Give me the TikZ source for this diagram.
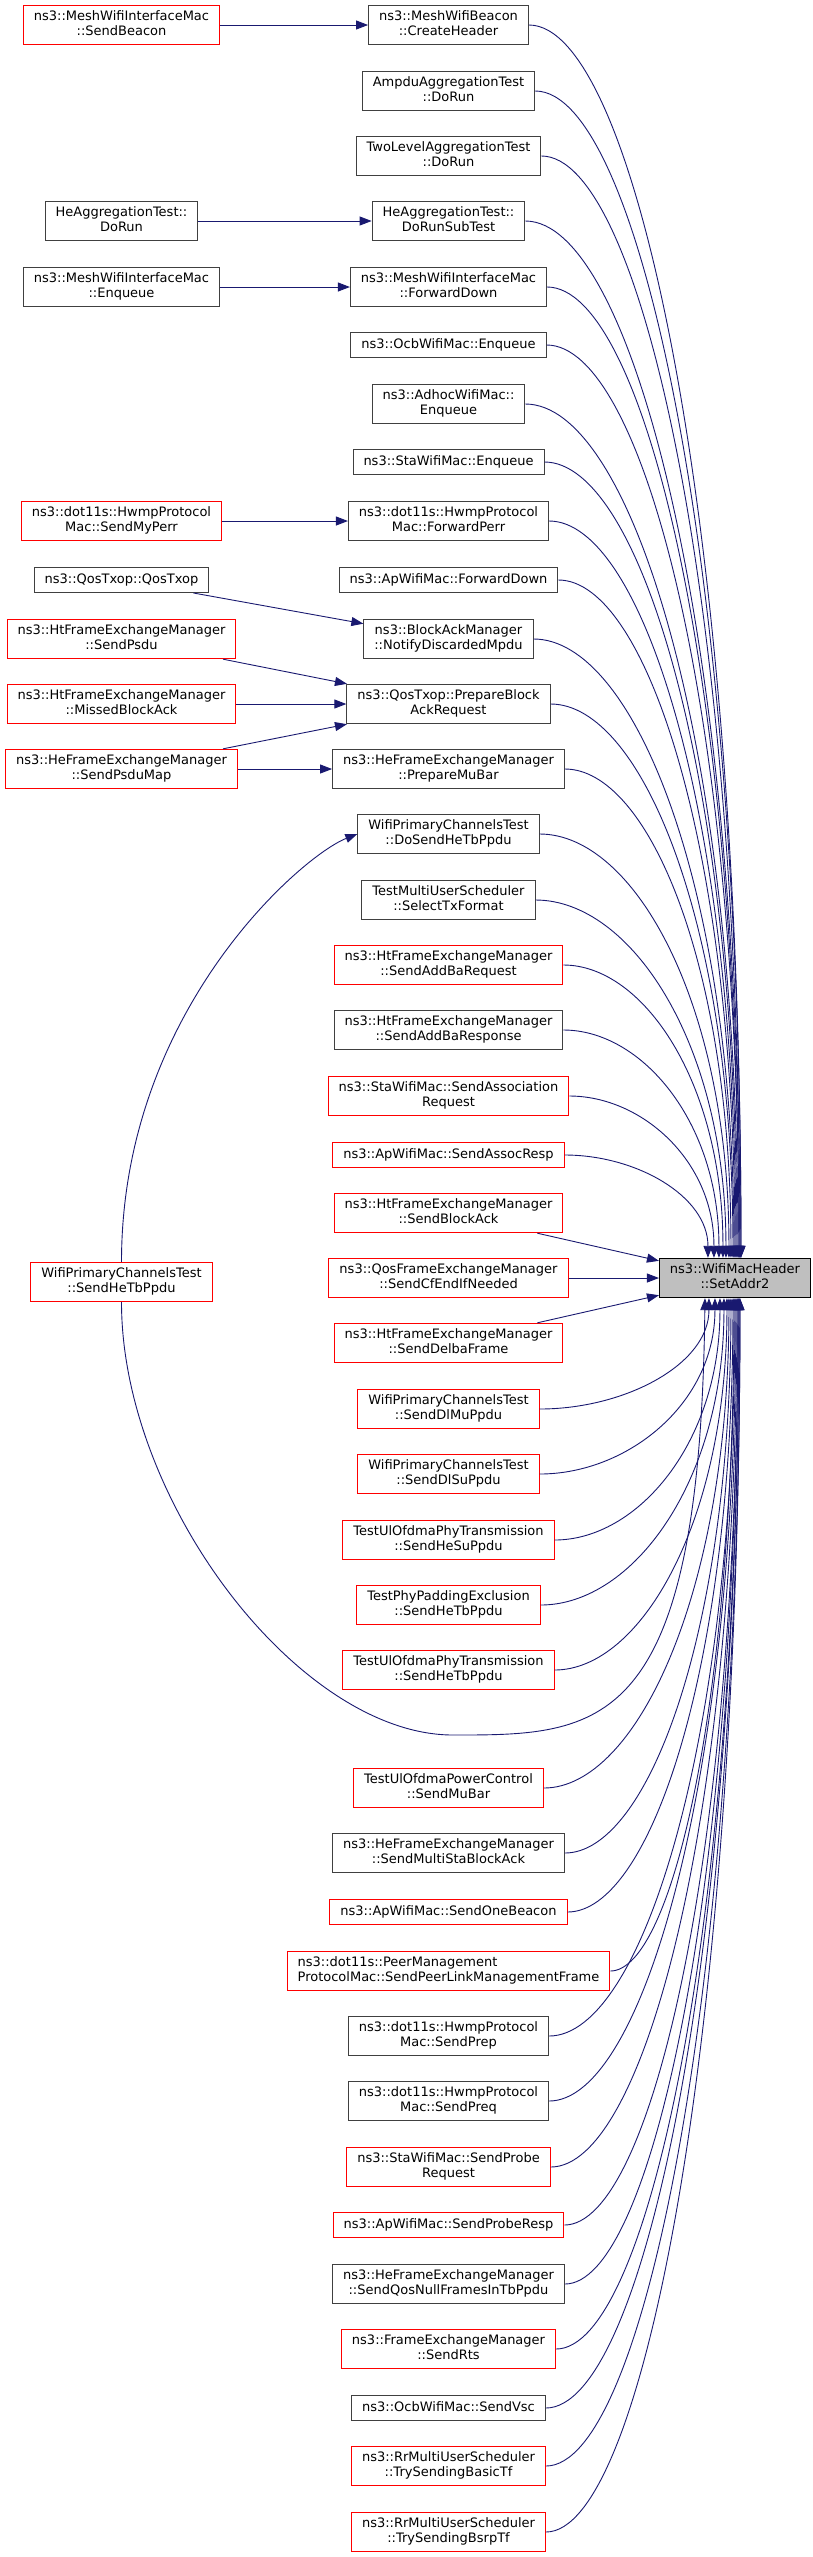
\documentclass[tikz,border=0pt]{standalone}
\usepackage{fontspec}
\setmainfont{DejaVu Sans}
\usetikzlibrary{arrows.meta,calc}
\definecolor{edgeblue}{HTML}{191970}
\definecolor{boxline}{HTML}{404040}
\definecolor{hitfill}{HTML}{BFBFBF}

\begin{document}
\begin{tikzpicture}[x=1pt,y=1pt]
        \tikzset{fnbox/.style={draw=boxline,line width=1pt,fill=white,align=center,
                font=\fontsize{13}{15}\selectfont,inner xsep=10.5pt,inner ysep=5pt,
                execute at begin node=\strut,execute at end node=\strut},
            fnred/.style={fnbox,draw=red},
            fnhit/.style={fnbox,draw=black,fill=hitfill},
            calledge/.style={color=edgeblue,line width=0.9pt,-{Triangle[length=12pt,width=9pt]}}}
        \useasboundingbox (0,0) rectangle (813,-2557);

        % callers of the callers
        \node[fnred] (sendbeacon) at (121.5,-25) {ns3::MeshWifiInterfaceMac\\::SendBeacon};
        \node[fnbox] (heaggrun) at (121.5,-221) {HeAggregationTest::\\DoRun};
        \node[fnbox] (meshenq) at (121.5,-287) {ns3::MeshWifiInterfaceMac\\::Enqueue};
        \node[fnred] (sendmyperr) at (121.5,-521) {ns3::dot11s::HwmpProtocol\\Mac::SendMyPerr};
        \node[fnbox] (qostxop) at (121.5,-580) {ns3::QosTxop::QosTxop};
        \node[fnred] (sendpsdu) at (121.5,-639) {ns3::HtFrameExchangeManager\\::SendPsdu};
        \node[fnred] (missedba) at (121.5,-704) {ns3::HtFrameExchangeManager\\::MissedBlockAck};
        \node[fnred] (psdumap) at (121.5,-769) {ns3::HeFrameExchangeManager\\::SendPsduMap};
        \node[fnred] (sendhetb) at (121.5,-1282) {WifiPrimaryChannelsTest\\::SendHeTbPpdu};

        % direct callers
        \node[fnbox] (ch) at (448.5,-25) {ns3::MeshWifiBeacon\\::CreateHeader};
        \node[fnbox] (ampdu) at (448.5,-91) {AmpduAggregationTest\\::DoRun};
        \node[fnbox] (twolevel) at (448.5,-156) {TwoLevelAggregationTest\\::DoRun};
        \node[fnbox] (subtest) at (448.5,-221) {HeAggregationTest::\\DoRunSubTest};
        \node[fnbox] (fwddown) at (448.5,-287) {ns3::MeshWifiInterfaceMac\\::ForwardDown};
        \node[fnbox] (ocbenq) at (448.5,-345) {ns3::OcbWifiMac::Enqueue};
        \node[fnbox] (adhocenq) at (448.5,-404) {ns3::AdhocWifiMac::\\Enqueue};
        \node[fnbox] (staenq) at (448.5,-462) {ns3::StaWifiMac::Enqueue};
        \node[fnbox] (fwdperr) at (448.5,-521) {ns3::dot11s::HwmpProtocol\\Mac::ForwardPerr};
        \node[fnbox] (apfwd) at (448.5,-580) {ns3::ApWifiMac::ForwardDown};
        \node[fnbox] (notify) at (448.5,-639) {ns3::BlockAckManager\\::NotifyDiscardedMpdu};
        \node[fnbox] (prepbar) at (448.5,-704) {ns3::QosTxop::PrepareBlock\\AckRequest};
        \node[fnbox] (mubar) at (448.5,-769) {ns3::HeFrameExchangeManager\\::PrepareMuBar};
        \node[fnbox] (dosend) at (448.5,-834) {WifiPrimaryChannelsTest\\::DoSendHeTbPpdu};
        \node[fnbox] (selecttx) at (448.5,-900) {TestMultiUserScheduler\\::SelectTxFormat};
        \node[fnred] (addbareq) at (448.5,-965) {ns3::HtFrameExchangeManager\\::SendAddBaRequest};
        \node[fnbox] (addbaresp) at (448.5,-1030) {ns3::HtFrameExchangeManager\\::SendAddBaResponse};
        \node[fnred] (assocreq) at (448.5,-1096) {ns3::StaWifiMac::SendAssociation\\Request};
        \node[fnred] (assocresp) at (448.5,-1155) {ns3::ApWifiMac::SendAssocResp};
        \node[fnred] (blockack) at (448.5,-1213) {ns3::HtFrameExchangeManager\\::SendBlockAck};
        \node[fnred] (cfend) at (448.5,-1278) {ns3::QosFrameExchangeManager\\::SendCfEndIfNeeded};
        \node[fnred] (delba) at (448.5,-1343) {ns3::HtFrameExchangeManager\\::SendDelbaFrame};
        \node[fnred] (dlmu) at (448.5,-1409) {WifiPrimaryChannelsTest\\::SendDlMuPpdu};
        \node[fnred] (dlsu) at (448.5,-1474) {WifiPrimaryChannelsTest\\::SendDlSuPpdu};
        \node[fnred] (hesu) at (448.5,-1540) {TestUlOfdmaPhyTransmission\\::SendHeSuPpdu};
        \node[fnred] (padding) at (448.5,-1605) {TestPhyPaddingExclusion\\::SendHeTbPpdu};
        \node[fnred] (ulhetb) at (448.5,-1670) {TestUlOfdmaPhyTransmission\\::SendHeTbPpdu};
        \node[fnred] (pcmubar) at (448.5,-1788) {TestUlOfdmaPowerControl\\::SendMuBar};
        \node[fnbox] (multista) at (448.5,-1853) {ns3::HeFrameExchangeManager\\::SendMultiStaBlockAck};
        \node[fnred] (onebeacon) at (448.5,-1912) {ns3::ApWifiMac::SendOneBeacon};
        \node[fnred,align=left] (peerlink) at (448.5,-1971) {ns3::dot11s::PeerManagement\\ProtocolMac::SendPeerLinkManagementFrame};
        \node[fnbox] (prep) at (448.5,-2036) {ns3::dot11s::HwmpProtocol\\Mac::SendPrep};
        \node[fnbox] (preq) at (448.5,-2101) {ns3::dot11s::HwmpProtocol\\Mac::SendPreq};
        \node[fnred] (probereq) at (448.5,-2167) {ns3::StaWifiMac::SendProbe\\Request};
        \node[fnred] (proberesp) at (448.5,-2225) {ns3::ApWifiMac::SendProbeResp};
        \node[fnbox] (qosnull) at (448.5,-2284) {ns3::HeFrameExchangeManager\\::SendQosNullFramesInTbPpdu};
        \node[fnred] (rts) at (448.5,-2349) {ns3::FrameExchangeManager\\::SendRts};
        \node[fnbox] (vsc) at (448.5,-2408) {ns3::OcbWifiMac::SendVsc};
        \node[fnred] (basictf) at (448.5,-2466) {ns3::RrMultiUserScheduler\\::TrySendingBasicTf};
        \node[fnred] (bsrptf) at (448.5,-2532) {ns3::RrMultiUserScheduler\\::TrySendingBsrpTf};

        % the function itself
        \node[fnhit] (tgt) at (735,-1278) {ns3::WifiMacHeader\\::SetAddr2};

        % left to middle
        \draw[calledge] (sendbeacon) -- (ch);
        \draw[calledge] (heaggrun) -- (subtest);
        \draw[calledge] (meshenq) -- (fwddown);
        \draw[calledge] (sendmyperr) -- (fwdperr);
        \draw[calledge] (qostxop) -- (notify);
        \draw[calledge] (sendpsdu) -- (prepbar);
        \draw[calledge] (missedba) -- (prepbar);
        \draw[calledge] (psdumap) -- (prepbar);
        \draw[calledge] (psdumap) -- (mubar);
        \draw[calledge] (sendhetb.north) .. controls +(0,250) and +(-56,-22) .. (dosend.west);

        % middle to the function
        \foreach \s/\e in {ch/82,ampdu/82,twolevel/81,subtest/81,fwddown/80,ocbenq/80,
                adhocenq/79,staenq/78,fwdperr/77,apfwd/76,notify/75,prepbar/74,mubar/72,
                dosend/70,selecttx/67,addbareq/64,addbaresp/60,assocreq/55,assocresp/49}
            \draw[calledge] let \p1=(\s.east), \p2=([xshift=\e]tgt.north west) in
                (\p1) .. controls ({0.5*\x1+0.5*\x2},\y1) and (\x2,{0.4*\y2+0.6*\y1}) .. (\p2);
        \foreach \s/\e in {dlmu/50,dlsu/56,hesu/61,padding/65,ulhetb/68,pcmubar/70,
                multista/72,onebeacon/74,peerlink/75,prep/76,preq/77,probereq/78,
                proberesp/79,qosnull/79,rts/80,vsc/80,basictf/81,bsrptf/81}
            \draw[calledge] let \p1=(\s.east), \p2=([xshift=\e]tgt.south west) in
                (\p1) .. controls ({0.5*\x1+0.5*\x2},\y1) and (\x2,{0.4*\y2+0.6*\y1}) .. (\p2);
        \draw[calledge] (blockack) -- (tgt);
        \draw[calledge] (cfend) -- (tgt);
        \draw[calledge] (delba) -- (tgt);

        % the long way round
        \coordinate (loopbot) at (453,-1735);
        \draw[calledge] (sendhetb.south) .. controls +(0,-200) and (300,-1735) .. (loopbot)
            .. controls (600,-1735) and (700,-1735) .. ([xshift=46]tgt.south west);
\end{tikzpicture}
\end{document}
